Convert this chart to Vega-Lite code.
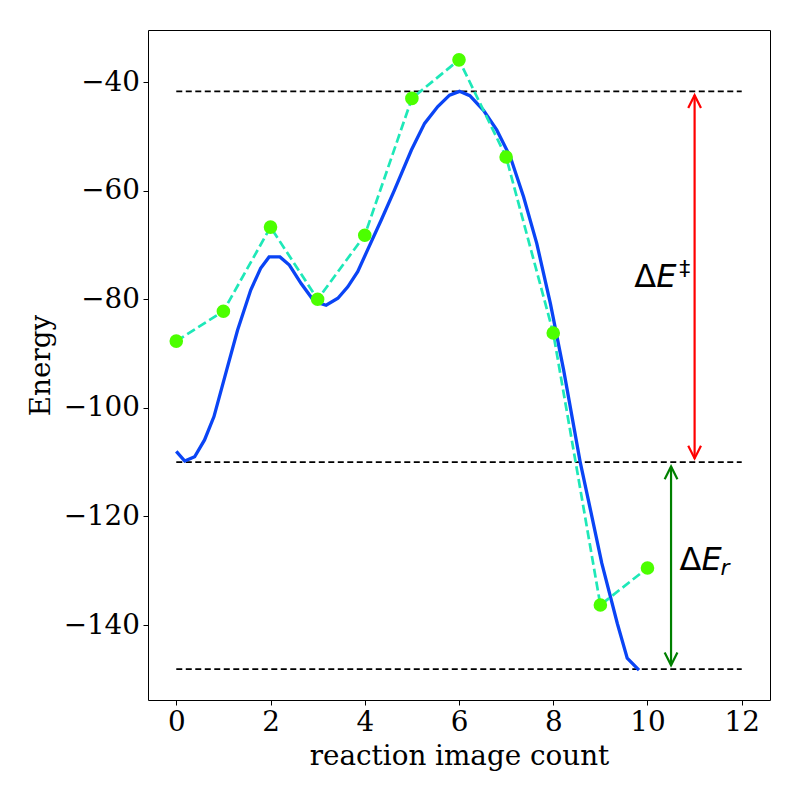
{
  "$schema": "https://vega.github.io/schema/vega-lite/v6.json",
  "autosize": {"type": "none"},
  "width": 622,
  "height": 670,
  "padding": {"left": 148, "top": 30, "right": 30, "bottom": 100},
  "background": "white",
  "config": {
    "view": {"stroke": "black", "strokeWidth": 1},
    "font": "DejaVu Serif",
    "axis": {
      "domain": false,
      "grid": false,
      "ticks": true,
      "tickColor": "black",
      "tickSize": 5,
      "labelColor": "black",
      "labelFont": "DejaVu Serif",
      "labelFontSize": 27.8,
      "labelPadding": 3.5,
      "titleColor": "black",
      "titleFont": "DejaVu Serif",
      "titleFontSize": 27.8,
      "titleFontWeight": "normal"
    }
  },
  "datasets": {
    "levels": [{"y": -41.7}, {"y": -110.0}, {"y": -148.1}],
    "curve": [
      {"x": 0, "y": -108.0}, {"x": 0.18, "y": -109.8}, {"x": 0.39, "y": -109.0},
      {"x": 0.6, "y": -105.9}, {"x": 0.8, "y": -101.6}, {"x": 1.07, "y": -93.0},
      {"x": 1.3, "y": -85.7}, {"x": 1.58, "y": -78.3}, {"x": 1.79, "y": -74.3},
      {"x": 1.97, "y": -72.2}, {"x": 2.2, "y": -72.2}, {"x": 2.4, "y": -73.7},
      {"x": 2.65, "y": -77.1}, {"x": 2.93, "y": -80.4}, {"x": 3.18, "y": -81.1},
      {"x": 3.43, "y": -79.8}, {"x": 3.64, "y": -77.7}, {"x": 3.85, "y": -74.9},
      {"x": 4.06, "y": -70.9}, {"x": 4.35, "y": -65.4}, {"x": 4.63, "y": -59.9},
      {"x": 4.99, "y": -52.5}, {"x": 5.27, "y": -47.6}, {"x": 5.55, "y": -44.5},
      {"x": 5.8, "y": -42.4}, {"x": 6.01, "y": -41.7}, {"x": 6.23, "y": -42.5},
      {"x": 6.52, "y": -45.2}, {"x": 6.8, "y": -48.8}, {"x": 7.09, "y": -53.8},
      {"x": 7.37, "y": -61.1}, {"x": 7.65, "y": -69.7}, {"x": 7.94, "y": -80.8},
      {"x": 8.22, "y": -93.0}, {"x": 8.57, "y": -109.9}, {"x": 8.79, "y": -118.8},
      {"x": 9.03, "y": -128.6}, {"x": 9.36, "y": -139.7}, {"x": 9.57, "y": -146.1},
      {"x": 9.82, "y": -148.3}
    ],
    "images": [
      {"image": 0, "energy": -87.7}, {"image": 1, "energy": -82.2},
      {"image": 2, "energy": -66.7}, {"image": 3, "energy": -80.0},
      {"image": 4, "energy": -68.2}, {"image": 5, "energy": -43.0},
      {"image": 6, "energy": -35.9}, {"image": 7, "energy": -53.8},
      {"image": 8, "energy": -86.2}, {"image": 9, "energy": -136.3},
      {"image": 10, "energy": -129.5}
    ],
    "arrows": [
      {"arrow": "barrier", "x": 11, "y": -42.4, "y2": -109.3},
      {"arrow": "reaction", "x": 10.5, "y": -110.8, "y2": -147.4}
    ],
    "heads": [
      {"arrow": "barrier", "end": "top", "x": 11, "y": -42.4},
      {"arrow": "barrier", "end": "bottom", "x": 11, "y": -109.3},
      {"arrow": "reaction", "end": "top", "x": 10.5, "y": -110.8},
      {"arrow": "reaction", "end": "bottom", "x": 10.5, "y": -147.4}
    ]
  },
  "layer": [
    {
      "data": {"name": "levels"},
      "mark": {"type": "rule", "color": "black", "strokeWidth": 1.8, "strokeDash": [6, 3.5]},
      "encoding": {
        "x": {"datum": 0, "type": "quantitative",
          "scale": {"domain": [-0.6, 12.6], "nice": false, "zero": false},
          "axis": {"values": [0, 2, 4, 6, 8, 10, 12], "title": "reaction image count", "titlePadding": 6}},
        "x2": {"datum": 12},
        "y": {"field": "y", "type": "quantitative",
          "scale": {"domain": [-153.8, -30.4], "nice": false, "zero": false},
          "axis": {"values": [-140, -120, -100, -80, -60, -40], "title": "Energy", "titlePadding": 8}}
      }
    },
    {
      "data": {"name": "curve"},
      "mark": {"type": "line", "color": "#0a44f5", "strokeWidth": 3.3},
      "encoding": {
        "x": {"field": "x", "type": "quantitative"},
        "y": {"field": "y", "type": "quantitative"}
      }
    },
    {
      "data": {"name": "images"},
      "mark": {"type": "line", "color": "#1ee8b8", "strokeWidth": 2.7, "strokeDash": [9, 4]},
      "encoding": {
        "x": {"field": "image", "type": "quantitative"},
        "y": {"field": "energy", "type": "quantitative"}
      }
    },
    {
      "data": {"name": "images"},
      "mark": {"type": "point", "filled": true, "color": "#4cff00", "opacity": 1, "size": 185},
      "encoding": {
        "x": {"field": "image", "type": "quantitative"},
        "y": {"field": "energy", "type": "quantitative"}
      }
    },
    {
      "data": {"name": "arrows"},
      "mark": {"type": "rule", "strokeWidth": 2.2},
      "encoding": {
        "x": {"field": "x", "type": "quantitative"},
        "y": {"field": "y", "type": "quantitative"},
        "y2": {"field": "y2"},
        "color": {"field": "arrow", "type": "nominal",
          "scale": {"domain": ["barrier", "reaction"], "range": ["#ff0000", "#008000"]}, "legend": null}
      }
    },
    {
      "data": {"name": "heads"},
      "mark": {"type": "point", "filled": false, "strokeWidth": 2.2, "size": 650, "opacity": 1},
      "encoding": {
        "x": {"field": "x", "type": "quantitative"},
        "y": {"field": "y", "type": "quantitative"},
        "shape": {"field": "end", "type": "nominal",
          "scale": {"domain": ["top", "bottom"], "range": ["M -0.5 1 L 0 0 L 0.5 1", "M -0.5 -1 L 0 0 L 0.5 -1"]}, "legend": null},
        "color": {"field": "arrow", "type": "nominal",
          "scale": {"domain": ["barrier", "reaction"], "range": ["#ff0000", "#008000"]}, "legend": null}
      }
    },
    {
      "data": {"values": [{"x": 9.72, "y": -77.7, "t": "Δ"}, {"x": 10.68, "y": -129.9, "t": "Δ"}]},
      "mark": {"type": "text", "font": "DejaVu Sans", "fontSize": 32, "align": "left", "baseline": "alphabetic", "color": "black"},
      "encoding": {
        "x": {"field": "x", "type": "quantitative"},
        "y": {"field": "y", "type": "quantitative"},
        "text": {"field": "t"}
      }
    },
    {
      "data": {"values": [{"x": 9.72, "y": -77.7, "t": "E"}, {"x": 10.68, "y": -129.9, "t": "E"}]},
      "mark": {"type": "text", "font": "DejaVu Sans", "fontSize": 32, "fontStyle": "oblique", "align": "left", "baseline": "alphabetic", "dx": 22, "color": "black"},
      "encoding": {
        "x": {"field": "x", "type": "quantitative"},
        "y": {"field": "y", "type": "quantitative"},
        "text": {"field": "t"}
      }
    },
    {
      "data": {"values": [{"x": 9.72, "y": -77.7, "t": "‡"}]},
      "mark": {"type": "text", "font": "DejaVu Sans", "fontSize": 22, "align": "left", "baseline": "alphabetic", "dx": 45, "dy": -11, "color": "black"},
      "encoding": {
        "x": {"field": "x", "type": "quantitative"},
        "y": {"field": "y", "type": "quantitative"},
        "text": {"field": "t"}
      }
    },
    {
      "data": {"values": [{"x": 10.68, "y": -129.9, "t": "r"}]},
      "mark": {"type": "text", "font": "DejaVu Sans", "fontSize": 22, "fontStyle": "oblique", "align": "left", "baseline": "alphabetic", "dx": 41, "dy": 5, "color": "black"},
      "encoding": {
        "x": {"field": "x", "type": "quantitative"},
        "y": {"field": "y", "type": "quantitative"},
        "text": {"field": "t"}
      }
    }
  ]
}
